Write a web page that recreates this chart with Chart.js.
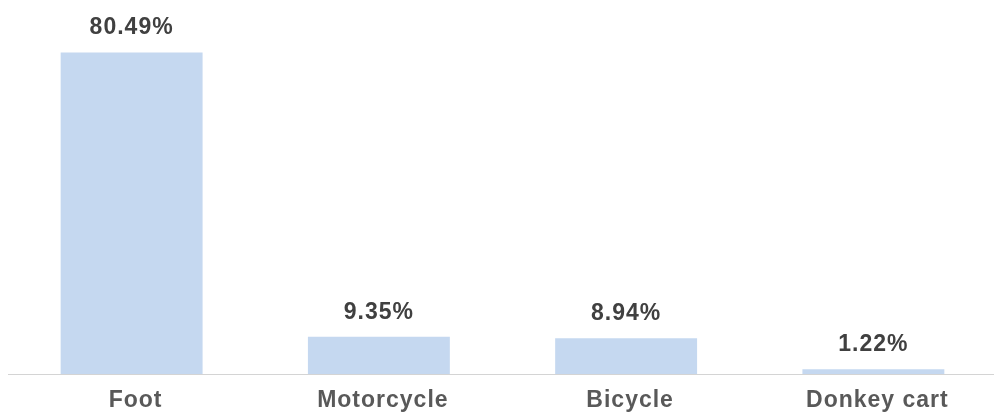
<!DOCTYPE html>
<html>
<head>
<meta charset="utf-8">
<script src="https://cdn.jsdelivr.net/npm/chart.js@4/dist/chart.umd.min.js"></script>
<style>
  html, body { margin: 0; padding: 0; background: #fff; overflow: hidden; }
  #wrap { width: 998px; height: 414px; }
</style>
</head>
<body>
<div id="wrap"><canvas id="chart" width="998" height="414"></canvas></div>
<script>
// chart data
const categories = ['Foot', 'Motorcycle', 'Bicycle', 'Donkey cart'];
const shares = [80.49, 9.35, 8.94, 1.22];

const FONT = "'Liberation Sans', Arial, sans-serif";

// the source text is set a little loose, so widen the tracking for all labels;
// category names also sit a few px right of the bar centres in the original
const looseText = {
  id: 'looseText',
  afterLayout(chart) {
    const x = chart.scales.x;
    if (x._nudged) return;
    const orig = x.drawLabels.bind(x);
    x.drawLabels = function (area) {
      chart.ctx.save();
      chart.ctx.translate(4, 0);
      orig(area);
      chart.ctx.restore();
    };
    x._nudged = true;
  },
  beforeDraw(chart) {
    chart.ctx.letterSpacing = '1px';
  }
};

// draws the percentage above each bar
const valueLabels = {
  id: 'valueLabels',
  afterDatasetsDraw(chart) {
    const ctx = chart.ctx;
    const meta = chart.getDatasetMeta(0);
    ctx.save();
    ctx.letterSpacing = '1px';
    ctx.font = 'bold 23px ' + FONT;
    ctx.fillStyle = '#404040';
    ctx.textAlign = 'center';
    ctx.textBaseline = 'alphabetic';
    meta.data.forEach((bar, i) => {
      ctx.fillText(shares[i].toFixed(2) + '%', bar.x, bar.y - 18);
    });
    ctx.restore();
  }
};

new Chart(document.getElementById('chart'), {
  type: 'bar',
  data: {
    labels: categories,
    datasets: [{
      data: shares,
      backgroundColor: '#c5d8f0',
      borderWidth: 0,
      categoryPercentage: 1,
      barPercentage: 0.574
    }]
  },
  options: {
    responsive: false,
    animation: false,
    devicePixelRatio: 1,
    layout: { padding: { left: 8, right: 1, top: 0, bottom: 0 } },
    plugins: {
      legend: { display: false },
      tooltip: { enabled: false }
    },
    scales: {
      x: {
        grid: { display: false, drawTicks: false },
        border: { display: true, color: '#d4d4d4', width: 1 },
        ticks: {
          color: '#595959',
          padding: 13,
          font: { family: FONT, size: 23, weight: 'bold' }
        },
        afterFit(scale) { scale.height = 40; }
      },
      y: {
        display: false,
        min: 0,
        max: 93.6
      }
    }
  },
  plugins: [looseText, valueLabels]
});
</script>
</body>
</html>
